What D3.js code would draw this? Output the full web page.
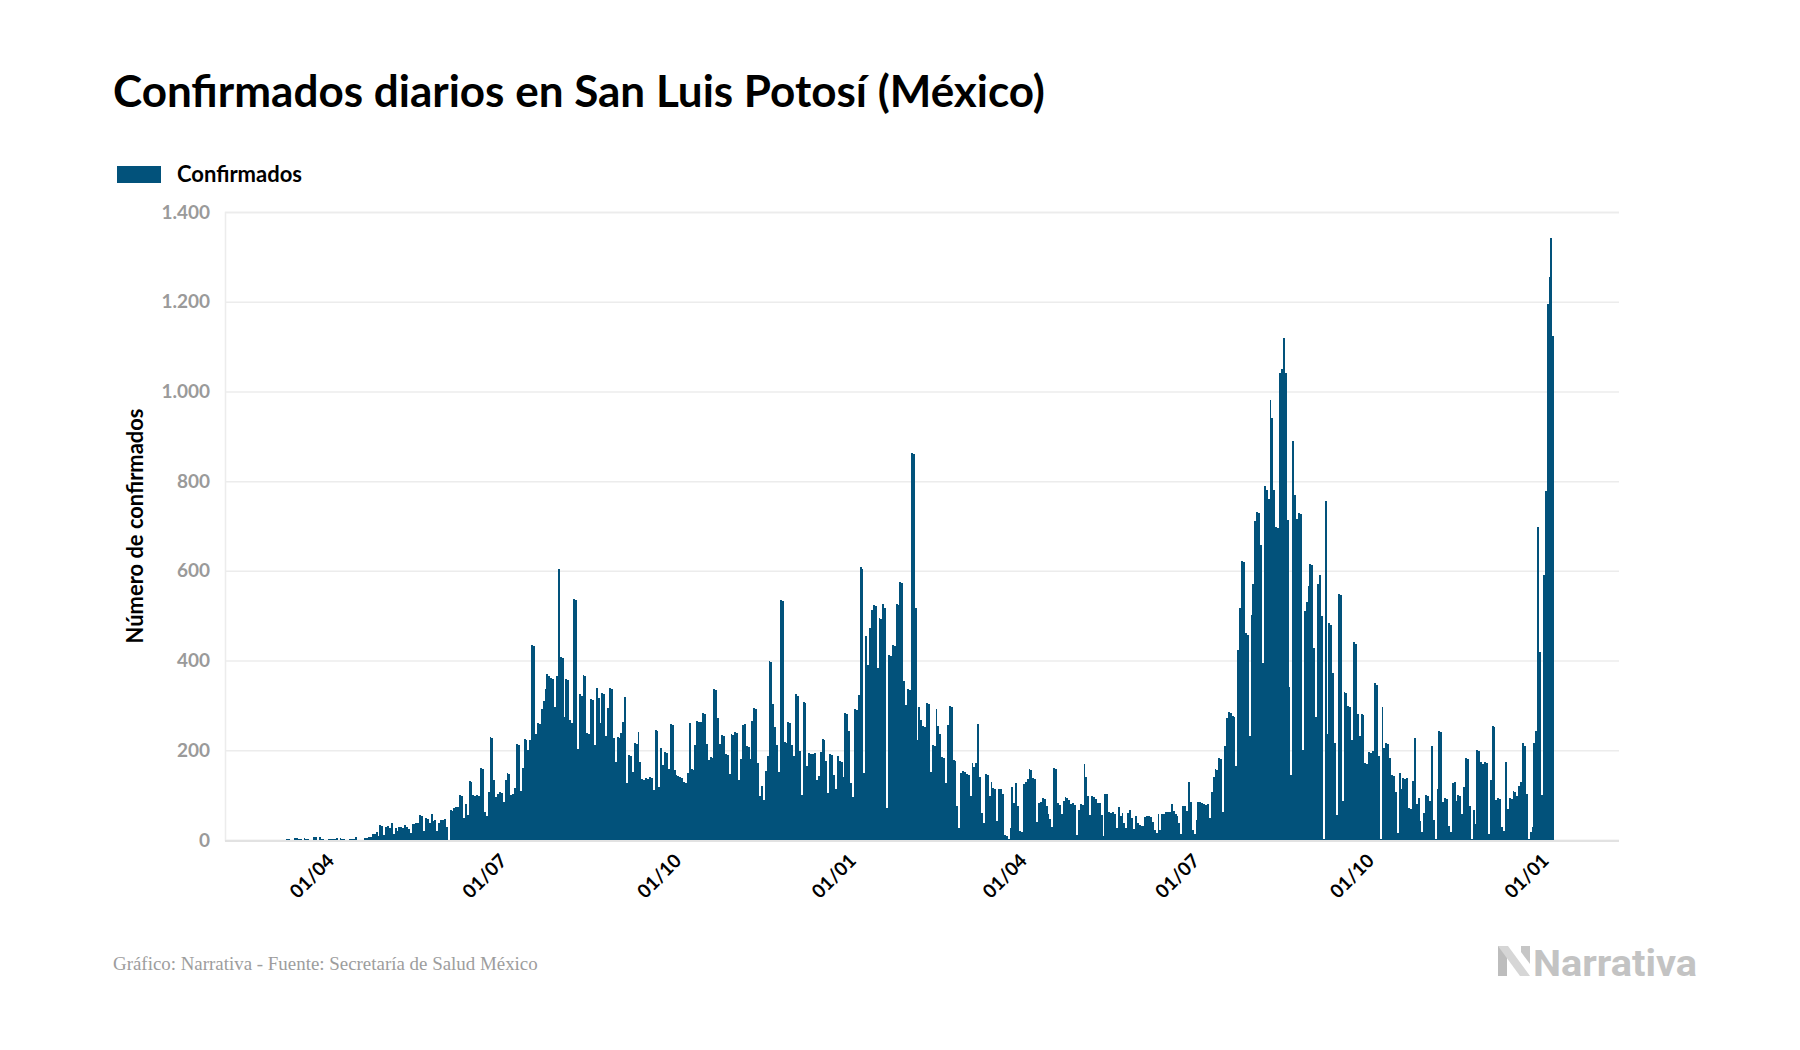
<!DOCTYPE html>
<html><head><meta charset="utf-8">
<script src="https://cdn.jsdelivr.net/npm/d3@7"></script>
<style>
html,body{margin:0;padding:0;background:#fff;}
svg{display:block;}
</style></head><body>
<svg id="chart" width="1800" height="1050"></svg>
<script>
const titulo = "Confirmados diarios en San Luis Potosí (México)";
const leyenda = "Confirmados";
const tituloEjeY = "Número de confirmados";
const fuente = "Gráfico: Narrativa - Fuente: Secretaría de Salud México";
const marca = "Narrativa";
const fechaInicio = "2020-03-16";

// 16/03/2020 - 31/12/2020
const casos2020 = [
3,3,0,0,5,5,2,2,0,5, 3,2,0,0,7,7,0,7,2,2, 0,0,2,2,2,2,4,0,4,2, 2,0,0,2,2,2,7,0,1,1,
1,4,4,7,7,13,13,18,9,34, 31,11,29,31,27,38,13,27,20,29, 29,27,34,29,25,16,36,35,38,37,
56,54,20,49,47,38,58,43,44,20, 38,45,44,46,30,0,
67,65,72,74,74,100,98,48,80,56, 132,130,100,98,101,99,160,158,62,53,
107,230,228,134,96,103,107,105,85,134, 149,147,100,102,116,214,212,109,160,225,
222,201,223,435,432,236,261,258,292,310, 337,370,366,361,358,296,366,604,408,405,
274,359,356,267,261,537,535,203,325,322, 368,365,238,236,314,312,212,339,317,261,
328,325,232,294,339,336,227,175,230,228, 238,263,319,127,189,187,152,216,214,241,
174,136,134,138,137,140,138,111,245,243, 118,205,167,196,194,158,259,257,156,145,
143,141,138,129,127,149,261,158,156,212, 265,262,263,283,281,214,178,185,183,337,
335,272,214,234,232,192,190,147,236,234, 241,239,134,181,256,259,210,208,181,265,
294,292,172,98,120,89,154,187,399,397, 303,252,212,152,535,532,218,216,263,261,
212,187,325,322,198,100,308,305,165,194, 192,192,194,134,143,196,225,223,176,105,
192,190,145,114,187
];
// 01/01/2021 - 31/12/2021
const casos2021 = [
176,174,140,283,281,243,
127,96,292,290,323,608,605,149,455,390, 473,513,524,522,383,495,493,526,517,71,
412,410,435,433,526,524,575,573,354,301, 337,335,863,860,517,223,296,267,254,252,
305,303,152,212,210,292,254,236,185,183, 127,256,299,297,178,176,76,27,149,154,
152,147,145,98,172,163,172,259,140,60, 38,147,145,98,129,116,114,42,114,114,
103,11,10,2,27,118,82,127,76,20, 18,125,130,136,158,155,138,136,40,82,
85,94,92,76,58,47,29,160,158,82, 78,58,87,96,94,90,80,82,78,11,
67,80,78,169,140,98,56,98,96,91, 82,82,56,8,103,103,62,60,62,58,
27,74,53,60,38,27,60,67,49,25, 53,38,33,31,31,51,53,53,51,40,
22,16,58,22,58,58,62,62,62,80, 65,58,53,38,13,76,76,65,129,85,
22,13,45,85,
85,83,80,78,80,49,107,140,158,156, 183,181,62,210,272,285,283,276,274,165,
424,517,622,620,461,458,232,502,571,711, 731,728,658,395,790,780,760,980,940,780,
698,695,1040,1050,1120,1040,713,341,145,890, 770,716,729,726,200,511,531,567,615,612,
429,274,570,590,499,3,756,236,483,480, 372,217,56,549,546,86,331,328,299,296,
222,441,438,281,231,281,278,172,170,197, 195,199,349,346,188,2,297,204,217,215,
183,145,143,106,15,150,114,138,136,138, 71,70,132,227,80,94,42,18,60,100,
98,87,210,45,2,114,243,240,85,94, 92,31,18,127,129,87,100,98,58,118,
183,181,76,3,67,36,201,198,174,170, 174,172,13,134,254,251,89,94,92,29,
20,174,69,94,92,109,107,98,120,130, 216,210,103,2,17
];
// 01/01/2022 - 12/01/2022
const casos2022 = [30,216,243,698,418,100,590,778,1196,1255,1341,1123];

const ticksY = [0,200,400,600,800,1000,1200,1400];
const ticksX = ["2020-04-01","2020-07-01","2020-10-01","2021-01-01","2021-04-01","2021-07-01","2021-10-01","2022-01-01"];
const etiquetasX = ["01/04","01/07","01/10","01/01","01/04","01/07","01/10","01/01"];

const colorBarra = "#02527b";
const svg = d3.select("#chart");
const parse = d3.utcParse("%Y-%m-%d");
const inicio = parse(fechaInicio);
const valores = casos2020.concat(casos2021, casos2022);
const datos = valores.map((v,i)=>({fecha: d3.utcDay.offset(inicio,i), valor: v}));

const left = 225, right = 1619;
const x = d3.scaleUtc()
  .domain([parse("2020-04-01"), parse("2022-01-01")])
  .range([316.8, 1531.5]);
const y = d3.scaleLinear().domain([0,1400]).range([840,212]);

const loc = d3.formatLocale({decimal:",", thousands:".", grouping:[3], currency:["$",""]});
const fmt = loc.format(",d");

// title
const t = svg.append("text").text(titulo)
  .attr("x",113).attr("y",107)
  .attr("font-family","Lato, 'Open Sans', sans-serif").attr("font-weight",700)
  .attr("font-size",44).attr("fill","#000");
function fit(sel, w){const cur=sel.node().getComputedTextLength();const fs=parseFloat(sel.attr("font-size"));sel.attr("font-size",fs*w/cur);}
fit(t,932);

// legend
svg.append("rect").attr("x",117).attr("y",166).attr("width",44).attr("height",17).attr("fill",colorBarra);
const lt = svg.append("text").text(leyenda).attr("x",177).attr("y",182)
  .attr("font-family","Lato, sans-serif").attr("font-weight",700).attr("font-size",20).attr("fill","#000");
fit(lt,125);

// y axis with gridlines
const gy = svg.append("g").attr("transform",`translate(${left},0)`)
  .call(d3.axisLeft(y).tickValues(ticksY).tickFormat(fmt).tickSize(-(right-left)).tickPadding(15));
gy.select(".domain").attr("stroke","#ececec").attr("stroke-width",1.5);
gy.selectAll(".tick line").attr("stroke","#ececec").attr("stroke-width",1.5);
gy.selectAll(".tick text").attr("font-family","Lato, sans-serif").attr("font-weight",700)
  .attr("font-size",19).attr("fill","#9a9a9a");

// y title
const yt = svg.append("text").text(tituloEjeY)
  .attr("transform","translate(143,526) rotate(-90)").attr("text-anchor","middle")
  .attr("font-family","Lato, sans-serif").attr("font-weight",700).attr("font-size",20).attr("fill","#000");
fit(yt,235);

// bars
svg.append("g").selectAll("rect").data(datos).join("rect")
  .attr("x",d=>x(d.fecha))
  .attr("width",d=>x(d3.utcDay.offset(d.fecha,1))-x(d.fecha))
  .attr("y",d=>y(d.valor))
  .attr("height",d=>y(0)-y(d.valor))
  .attr("fill",colorBarra)
  .attr("shape-rendering","crispEdges");

// baseline
svg.append("line").attr("x1",left).attr("x2",right).attr("y1",y(0)+1).attr("y2",y(0)+1)
  .attr("stroke","#e2e2e2").attr("stroke-width",2);

// x axis labels
const gx = svg.append("g").attr("transform",`translate(0,${y(0)})`)
  .call(d3.axisBottom(x).tickValues(ticksX.map(parse)).tickFormat((d,i)=>etiquetasX[i]).tickSize(0));
gx.select(".domain").remove();
gx.selectAll(".tick text")
  .attr("x",0).attr("y",0).attr("dy",0)
  .attr("text-anchor","end")
  .attr("transform","translate(18,22) rotate(-45)")
  .attr("font-family","Lato, sans-serif").attr("font-weight",700).attr("font-size",19).attr("fill","#000");

// footer
const ft = svg.append("text").text(fuente).attr("x",113).attr("y",970)
  .attr("font-family","'Liberation Serif', 'DejaVu Serif', serif").attr("font-size",17).attr("fill","#9d9d9d");
fit(ft,425);

// logo
const lg = svg.append("g");
lg.append("polygon").attr("points","1498,946 1507,946 1507,976 1498,976").attr("fill","#bdbdbd");
lg.append("polygon").attr("points","1498,946 1508,946 1530,976 1520,976").attr("fill","#d6d6d6");
lg.append("polygon").attr("points","1521,946 1530,946 1530,964 1521,952").attr("fill","#c6c6c6");
lg.append("text").text(marca).attr("x",1533).attr("y",976)
  .attr("font-family","Roboto, sans-serif").attr("font-weight",700).attr("font-size",36)
  .attr("textLength",164).attr("lengthAdjust","spacingAndGlyphs").attr("fill","#c3c3c3");
</script>
</body></html>
